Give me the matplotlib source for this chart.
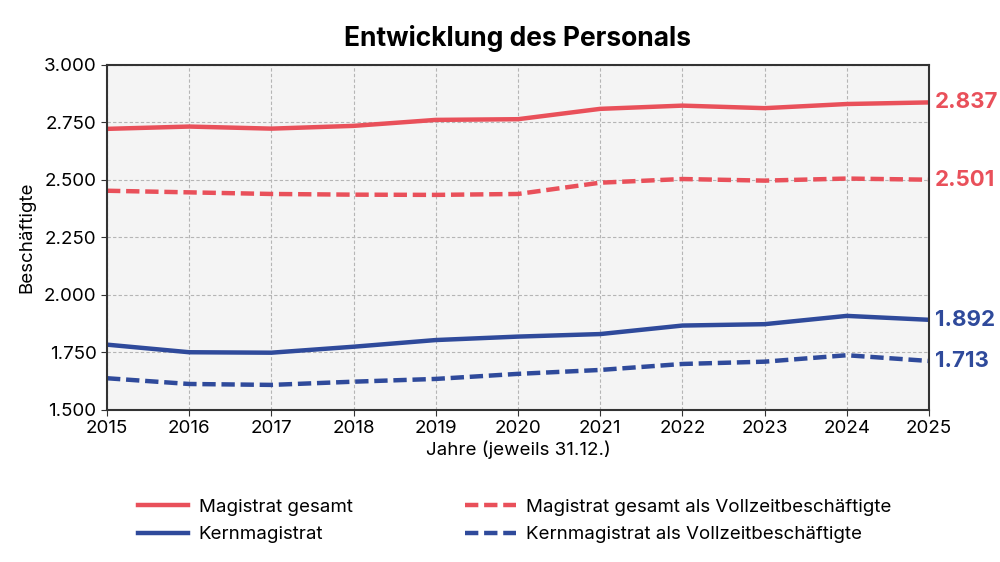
import matplotlib
matplotlib.use("Agg")
import matplotlib.pyplot as plt
from matplotlib.ticker import FuncFormatter

# data
years = [2015, 2016, 2017, 2018, 2019, 2020, 2021, 2022, 2023, 2024, 2025]
magistrat_gesamt = [2722, 2732, 2723, 2735, 2761, 2764, 2809, 2823, 2812, 2830, 2837]
magistrat_vz = [2453, 2446, 2439, 2436, 2435, 2439, 2488, 2504, 2497, 2506, 2501]
kernmagistrat = [1784, 1751, 1749, 1775, 1804, 1819, 1830, 1867, 1873, 1909, 1892]
kernmagistrat_vz = [1638, 1613, 1609, 1623, 1635, 1657, 1674, 1700, 1710, 1738, 1713]

RED = "#E9505A"
BLUE = "#2F4A9B"

plt.rcParams['font.family'] = ['Inter', 'DejaVu Sans']

fig = plt.figure(figsize=(10, 5.62), dpi=100)
ax = fig.add_axes([0.107, 0.2705, 0.822, 0.614])
ax.set_facecolor("#F4F4F4")

lw = 3.2
ax.plot(years, magistrat_gesamt, color=RED, lw=lw, label="Magistrat gesamt")
ax.plot(years, kernmagistrat, color=BLUE, lw=lw, label="Kernmagistrat")
ax.plot(years, magistrat_vz, color=RED, lw=lw, dashes=(3, 1.3),
        label="Magistrat gesamt als Vollzeitbeschäftigte")
ax.plot(years, kernmagistrat_vz, color=BLUE, lw=lw, dashes=(3, 1.3),
        label="Kernmagistrat als Vollzeitbeschäftigte")

# end labels
for series, col in [(magistrat_gesamt, RED), (magistrat_vz, RED),
                    (kernmagistrat, BLUE), (kernmagistrat_vz, BLUE)]:
    v = series[-1]
    ax.annotate(f"{v:,}".replace(",", "."), xy=(years[-1], v), xytext=(4.5, 0),
                textcoords="offset points", va="center", ha="left",
                color=col, fontsize=16, fontweight="bold", annotation_clip=False)

ax.set_xlim(2015, 2025)
ax.set_ylim(1500, 3000)
ax.set_xticks(years)
ax.set_yticks([1500, 1750, 2000, 2250, 2500, 2750, 3000])
ax.yaxis.set_major_formatter(FuncFormatter(lambda v, p: f"{int(v):,}".replace(",", ".")))
ax.tick_params(labelsize=13.5, length=4, color="#333333")
ax.grid(True, color="#B5B5B5", linestyle=(0, (3, 2)), linewidth=0.8)
ax.set_axisbelow(True)
for s in ax.spines.values():
    s.set_color("#333333")
    s.set_linewidth(1.5)

ax.set_xlabel("Jahre (jeweils 31.12.)", fontsize=13.5, labelpad=2)
ax.set_ylabel("Beschäftigte", fontsize=13.5, labelpad=6)
fig.text(0.518, 0.932, "Entwicklung des Personals", ha="center", va="center",
         fontsize=19, fontweight="bold")

fig.legend(loc="center", bbox_to_anchor=(0.5145, 0.073), ncol=2, frameon=False,
           fontsize=13.5, handlelength=2.7, columnspacing=6.0, labelspacing=0.55,
           handletextpad=0.55)

fig.savefig("out.png", dpi=100)
